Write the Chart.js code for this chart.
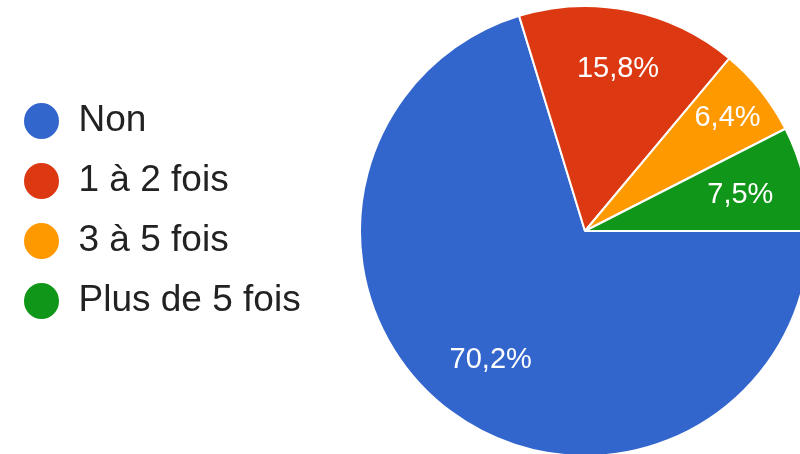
<!DOCTYPE html>
<html>
<head>
<meta charset="utf-8">
<script src="https://cdn.jsdelivr.net/npm/chart.js@4"></script>
<style>
    html, body { margin: 0; padding: 0; background: #fff; }
    #wrap { width: 800px; height: 454px; overflow: hidden; position: relative; }
    #wrap canvas { position: absolute; left: 0; top: 0; }
</style>
</head>
<body>
<div id="wrap">
    <canvas id="pieChart" width="810" height="462"></canvas>
</div>
<script>
const categories = ['Non', '1 à 2 fois', '3 à 5 fois', 'Plus de 5 fois'];
const percents = [70.2, 15.8, 6.4, 7.5];
const sliceColors = ['#3366cc', '#dc3912', '#ff9900', '#109618'];

// distance of each percent label from the centre, as a fraction of the radius
const labelRadius = [0.705, 0.74, 0.81, 0.71];

// legend takes a fixed strip on the left and sits a bit above the pie centre
const legendStrip = {
    id: 'legendStrip',
    beforeInit(chart) {
        const fit = chart.legend.fit;
        chart.legend.fit = function () {
            fit.call(this);
            this.width = 360;
        };
    },
    afterLayout(chart) {
        const lg = chart.legend;
        lg.top -= 20;
        lg.bottom -= 20;
    }
};

// white percent labels inside the slices
const sliceLabels = {
    id: 'sliceLabels',
    afterDatasetsDraw(chart) {
        const c = chart.ctx;
        const meta = chart.getDatasetMeta(0);
        const values = chart.data.datasets[0].data;
        c.save();
        c.fillStyle = '#fff';
        c.font = '29px "Liberation Sans", Arial, sans-serif';
        c.textAlign = 'center';
        c.textBaseline = 'middle';
        meta.data.forEach((arc, i) => {
            const p = arc.getProps(['x', 'y', 'startAngle', 'endAngle', 'outerRadius'], true);
            const mid = (p.startAngle + p.endAngle) / 2;
            const r = p.outerRadius * labelRadius[i];
            const text = values[i].toFixed(1).replace('.', ',') + '%';
            c.fillText(text, p.x + Math.cos(mid) * r, p.y + Math.sin(mid) * r + 1);
        });
        c.restore();
    }
};

document.addEventListener('DOMContentLoaded', function () {
    const ctx = document.getElementById('pieChart').getContext('2d');

    new Chart(ctx, {
        type: 'pie',
        data: {
            labels: categories,
            datasets: [{
                data: percents,
                backgroundColor: sliceColors,
                borderColor: '#fff',
                borderWidth: 2,
                hoverOffset: 0
            }]
        },
        options: {
            responsive: false,
            animation: false,
            rotation: 90,
            radius: 225,
            layout: {
                padding: { top: 6, bottom: 6, left: 0, right: 0 }
            },
            plugins: {
                legend: {
                    position: 'left',
                    align: 'center',
                    labels: {
                        usePointStyle: true,
                        pointStyle: 'circle',
                        pointStyleWidth: 37,
                        boxHeight: 27,
                        padding: 23,
                        color: '#222',
                        font: {
                            family: '"Liberation Sans", Arial, sans-serif',
                            size: 37
                        }
                    }
                },
                tooltip: {
                    enabled: false
                }
            }
        },
        plugins: [legendStrip, sliceLabels]
    });
});
</script>
</body>
</html>
